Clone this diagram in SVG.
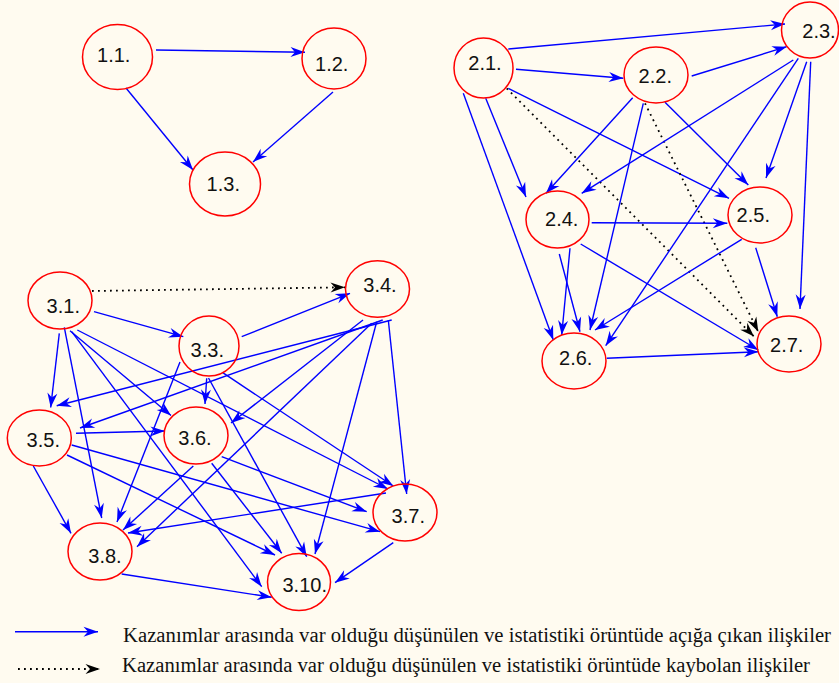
<svg xmlns="http://www.w3.org/2000/svg" width="839" height="683" viewBox="0 0 839 683">
<defs>
<marker id="ab" markerUnits="userSpaceOnUse" markerWidth="18" markerHeight="14" viewBox="-16 -7 18 14" refX="0" refY="0" orient="auto" overflow="visible">
<path d="M0,0 L-14.5,-5 L-10,0 L-14.5,5 Z" fill="#0000FF"/>
</marker>
<marker id="ak" markerUnits="userSpaceOnUse" markerWidth="18" markerHeight="14" viewBox="-16 -7 18 14" refX="0" refY="0" orient="auto" overflow="visible">
<path d="M0,0 L-14.5,-5 L-10,0 L-14.5,5 Z" fill="#000000"/>
</marker>
<style>
.n ellipse{fill:none;stroke:#FF0000;stroke-width:1.5}
.n text{font-family:"Liberation Sans",Arial,sans-serif;font-size:20px;fill:#111;text-anchor:middle}
.e line{stroke:#0000FF;stroke-width:1.4;marker-end:url(#ab)}
.e line.d{stroke:#000;stroke-width:1.8;stroke-dasharray:1.8 4.2;marker-end:url(#ak)}
.lg{font-family:"Liberation Serif","Times New Roman",serif;font-size:20.5px;fill:#111}
</style>
</defs>
<rect width="839" height="683" fill="#FFFBF0"/>

<g id="edges" class="e">
<!-- group 1 -->
<line x1="156" y1="50" x2="305" y2="52.3"/>
<line x1="126" y1="88" x2="193" y2="170"/>
<line x1="333" y1="92" x2="253" y2="162"/>
<!-- group 2 -->
<line x1="508.3" y1="49" x2="785" y2="24"/>
<line x1="516" y1="69.3" x2="623.3" y2="78.3"/>
<line x1="485.7" y1="98.3" x2="526" y2="197"/>
<line x1="463.3" y1="93.3" x2="553.3" y2="340"/>
<line x1="508.3" y1="88.3" x2="729" y2="198.3"/>
<line class="d" x1="506.7" y1="88.3" x2="754" y2="336.5"/>
<line x1="691.7" y1="76" x2="786.7" y2="46.7"/>
<line x1="632.7" y1="97.7" x2="546" y2="193.3"/>
<line x1="643.3" y1="103.3" x2="590" y2="330"/>
<line x1="665" y1="102.3" x2="748.3" y2="185"/>
<line class="d" x1="645" y1="103.3" x2="758.3" y2="331.7"/>
<line x1="793.3" y1="60" x2="581.7" y2="193.3"/>
<line x1="798.3" y1="58.3" x2="605.7" y2="345.7"/>
<line x1="806.7" y1="61.7" x2="766" y2="178"/>
<line x1="810.7" y1="61.7" x2="800" y2="309"/>
<line x1="591.7" y1="222.7" x2="727.3" y2="223.3"/>
<line x1="570" y1="248.3" x2="561.7" y2="335"/>
<line x1="559.3" y1="254" x2="580" y2="331.7"/>
<line x1="580.7" y1="244" x2="758.3" y2="350"/>
<line x1="741.7" y1="239.3" x2="595" y2="330"/>
<line x1="755.7" y1="247.7" x2="777.3" y2="316.7"/>
<line x1="606.7" y1="358.3" x2="758.3" y2="351.7"/>
<!-- group 3 -->
<line class="d" x1="92" y1="291" x2="345" y2="287.3"/>
<line x1="94" y1="311.7" x2="183.3" y2="336.7"/>
<line x1="59.3" y1="333.3" x2="50.7" y2="407.5"/>
<line x1="64.3" y1="327.3" x2="101.7" y2="518"/>
<line x1="70" y1="330.7" x2="171" y2="415.5"/>
<line x1="71.7" y1="331.7" x2="261.7" y2="586.7"/>
<line x1="77.3" y1="330" x2="388" y2="489"/>
<line x1="241.7" y1="336.7" x2="350" y2="293.3"/>
<line x1="206.7" y1="378.3" x2="205" y2="404"/>
<line x1="180" y1="362" x2="117" y2="522"/>
<line x1="208.5" y1="378" x2="306.7" y2="556.7"/>
<line x1="222.7" y1="372.7" x2="393.3" y2="486"/>
<line x1="76" y1="433.3" x2="165" y2="431"/>
<line x1="33.3" y1="466" x2="71" y2="533.3"/>
<line x1="71.7" y1="445" x2="380" y2="531.7"/>
<line x1="67" y1="455" x2="275" y2="555"/>
<line x1="193.3" y1="466" x2="123" y2="530"/>
<line x1="221.7" y1="456.7" x2="366.7" y2="511.7"/>
<line x1="211.7" y1="463.3" x2="281.7" y2="553.3"/>
<line x1="382.7" y1="320" x2="80" y2="428"/>
<line x1="391.7" y1="320" x2="56.7" y2="405.7"/>
<line x1="363" y1="320" x2="231" y2="423"/>
<line x1="371.7" y1="323.3" x2="137" y2="546.7"/>
<line x1="376.7" y1="321.7" x2="315" y2="554"/>
<line x1="388.3" y1="320" x2="406.7" y2="494"/>
<line x1="386" y1="493" x2="128" y2="533"/>
<line x1="393.3" y1="542.7" x2="335" y2="582.7"/>
<line x1="121.7" y1="574" x2="271.7" y2="597.3"/>
<!-- legend -->
<line x1="15" y1="631.7" x2="98" y2="631.7"/>
<line class="d" x1="18" y1="669" x2="100" y2="669"/>
</g>

<g id="n1.1" class="n"><ellipse cx="117.5" cy="57" rx="35" ry="32.5"/><text x="113.7" y="62.3">1.1.</text></g>
<g id="n1.2" class="n"><ellipse cx="334" cy="58.5" rx="32" ry="30.5"/><text x="331.7" y="71">1.2.</text></g>
<g id="n1.3" class="n"><ellipse cx="225" cy="184" rx="35.5" ry="32"/><text x="223.3" y="191">1.3.</text></g>

<g id="n2.1" class="n"><ellipse cx="483.5" cy="68" rx="29.5" ry="30"/><text x="485" y="70">2.1.</text></g>
<g id="n2.2" class="n"><ellipse cx="656" cy="75" rx="32" ry="28"/><text x="655.3" y="83.3">2.2.</text></g>
<g id="n2.3" class="n"><ellipse cx="810" cy="30" rx="28.5" ry="28"/><text x="819" y="38.3">2.3.</text></g>
<g id="n2.4" class="n"><ellipse cx="557.5" cy="219.5" rx="31.5" ry="28.5"/><text x="561.7" y="226">2.4.</text></g>
<g id="n2.5" class="n"><ellipse cx="760" cy="215" rx="32" ry="28"/><text x="753.3" y="222.3">2.5.</text></g>
<g id="n2.6" class="n"><ellipse cx="574" cy="361" rx="32" ry="28"/><text x="575.7" y="365">2.6.</text></g>
<g id="n2.7" class="n"><ellipse cx="789" cy="344" rx="32" ry="28"/><text x="786.7" y="351.7">2.7.</text></g>

<g id="n3.1" class="n"><ellipse cx="60" cy="300.5" rx="32" ry="28.5"/><text x="63.3" y="313">3.1.</text></g>
<g id="n3.3" class="n"><ellipse cx="209" cy="346" rx="30" ry="30"/><text x="207.3" y="356.7">3.3.</text></g>
<g id="n3.4" class="n"><ellipse cx="377.5" cy="289" rx="32" ry="28.3"/><text x="380" y="292.3">3.4.</text></g>
<g id="n3.5" class="n"><ellipse cx="39.3" cy="438" rx="32" ry="28"/><text x="43.3" y="447.3">3.5.</text></g>
<g id="n3.6" class="n"><ellipse cx="196" cy="435.5" rx="32" ry="28.5"/><text x="195" y="445">3.6.</text></g>
<g id="n3.7" class="n"><ellipse cx="405" cy="512.5" rx="32" ry="28.5"/><text x="408.3" y="523.3">3.7.</text></g>
<g id="n3.8" class="n"><ellipse cx="100" cy="551.5" rx="32" ry="28.5"/><text x="105" y="563.3">3.8.</text></g>
<g id="n3.10" class="n"><ellipse cx="299" cy="582" rx="31.5" ry="28.5"/><text x="304.7" y="591.7">3.10.</text></g>

<g id="legend">
<text class="lg" x="123" y="641.7" textLength="708" lengthAdjust="spacingAndGlyphs">Kazanımlar arasında var olduğu düşünülen ve istatistiki örüntüde açığa çıkan ilişkiler</text>
<text class="lg" x="122" y="671.7" textLength="688" lengthAdjust="spacingAndGlyphs">Kazanımlar arasında var olduğu düşünülen ve istatistiki örüntüde kaybolan ilişkiler</text>
</g>
</svg>
